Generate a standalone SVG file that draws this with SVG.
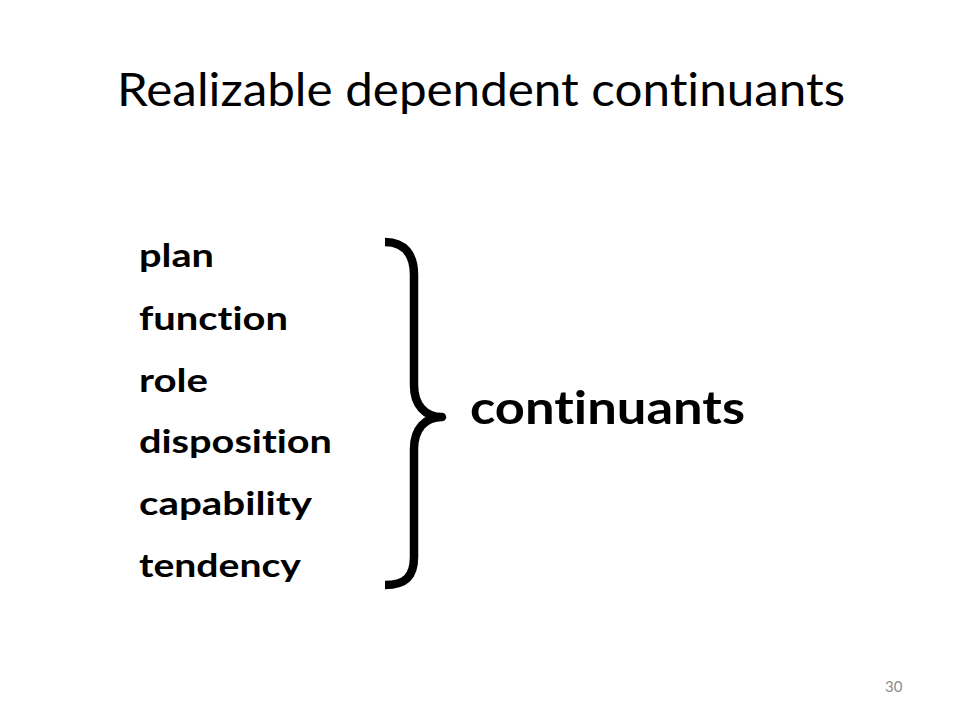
<svg xmlns="http://www.w3.org/2000/svg" width="960" height="720" viewBox="0 0 960 720">
<style>
text{font-variant-ligatures:none;font-feature-settings:"liga" 0,"clig" 0,"dlig" 0}
.title{font-family:Lato,"Open Sans",sans-serif;font-size:46px;fill:#000}
.item{font-family:Lato,"Open Sans",sans-serif;font-weight:bold;font-size:32px;fill:#000}
.big{font-family:Lato,"Open Sans",sans-serif;font-weight:bold;font-size:45px;fill:#000}
.num{font-family:Lato,"Open Sans",sans-serif;font-size:15px;fill:#8c8c8c}
</style>
<rect width="960" height="720" fill="#fff"/>
<g id="title"><text class="title" x="117" y="106" textLength="728" lengthAdjust="spacingAndGlyphs">Realizable dependent continuants</text></g>
<g id="items">
<text class="item" x="139" y="267" textLength="75" lengthAdjust="spacingAndGlyphs">plan</text>
<text class="item" x="139" y="330" textLength="149" lengthAdjust="spacingAndGlyphs">function</text>
<text class="item" x="139" y="392" textLength="69" lengthAdjust="spacingAndGlyphs">role</text>
<text class="item" x="139" y="453" textLength="193" lengthAdjust="spacingAndGlyphs">disposition</text>
<text class="item" x="139" y="515" textLength="173" lengthAdjust="spacingAndGlyphs">capability</text>
<text class="item" x="139" y="577" textLength="162" lengthAdjust="spacingAndGlyphs">tendency</text>
</g>
<g id="brace"><path d="M385,242 C405,242 414,255 414,275 L414,385 C414,405 425,417 442,417 C425,417 414,429 414,449 L414,557 C414,577 405,585 385,585" fill="none" stroke="#000" stroke-width="8.5" stroke-linejoin="round"/></g>
<g id="continuants"><text class="big" x="470" y="424" textLength="275" lengthAdjust="spacingAndGlyphs">continuants</text></g>
<g id="page"><text class="num" x="885" y="692">30</text></g>
</svg>
